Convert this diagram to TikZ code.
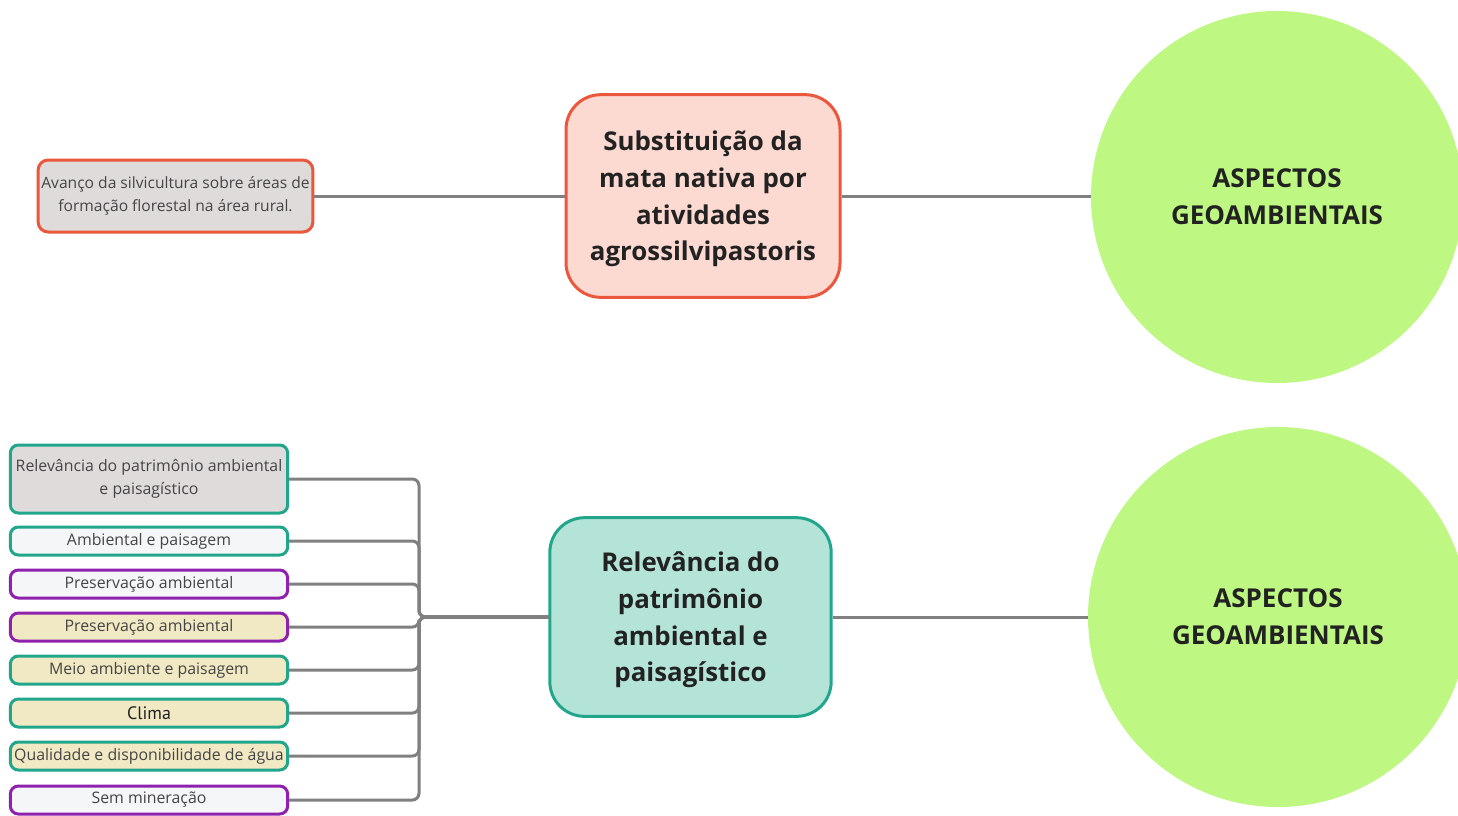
\documentclass[tikz,border=0pt]{standalone}
\usepackage{fontspec}
\setmainfont{Open Sans}
\newfontfamily\climafont{PT Sans}
\definecolor{orng}{HTML}{EA573A}
\definecolor{teal2}{HTML}{22A68B}
\definecolor{purp}{HTML}{8E22AD}
\definecolor{grayfill}{HTML}{DFDBDB}
\definecolor{whitefill}{HTML}{F4F6F8}
\definecolor{beige}{HTML}{F1E9C3}
\definecolor{pink}{HTML}{FCD9D1}
\definecolor{mint}{HTML}{B4E4D8}
\definecolor{lime}{HTML}{BEF781}
\definecolor{conn}{HTML}{808080}
\definecolor{txt}{HTML}{222222}
\definecolor{stxt}{HTML}{454545}
\tikzset{
  leaf/.style={draw, line width=2.25pt, rounded corners=6pt, minimum width=208pt, minimum height=21pt, inner sep=0pt, align=center, text=stxt, font=\fontsize{11.9}{14}\selectfont},
  hub/.style={draw, line width=2.25pt, rounded corners=26pt, inner sep=0pt, align=center, text=txt, font=\fontsize{19.4}{27.5}\selectfont\bfseries},
  bigcirc/.style={circle, fill=lime, inner sep=0pt, align=center, text=txt, font=\fontsize{19.5}{27.5}\selectfont\bfseries},
  link/.style={draw=conn, line width=2.25pt},
  buslink/.style={draw=conn, line width=2.25pt, rounded corners=5pt}
}
\begin{document}
\begin{tikzpicture}[x=0.75pt,y=-0.75pt]
\useasboundingbox (0,0) rectangle (1458,815);
% top branch
\node[bigcirc, minimum size=279pt] (c1) at (1277,197) {ASPECTOS\\GEOAMBIENTAIS};
\node[hub, draw=orng, fill=pink, minimum width=205.5pt, minimum height=152pt] (h1) at (703,196) {\strut Substituição da\\mata nativa por\\atividades\\agrossilvipastoris};
\node[leaf, draw=orng, fill=grayfill, rounded corners=7.5pt, minimum width=206pt, minimum height=54pt, font=\fontsize{11.7}{17}\selectfont] (t1) at (175.5,196) {Avanço da silvicultura sobre áreas de\\formação florestal na área rural.};
\draw[link] (t1.east) -- (h1.west);
\draw[link] (h1.east) -- (h1.east -| c1.west);
% bottom branch
\node[bigcirc, minimum size=285pt] (c2) at (1278,617) {ASPECTOS\\GEOAMBIENTAIS};
\node[hub, draw=teal2, fill=mint, minimum width=211pt, minimum height=149pt] (h2) at (690.5,617) {\strut Relevância do\\patrimônio\\ambiental e\\paisagístico};
\draw[link] (h2.east) -- (h2.east -| c2.west);
\node[leaf, draw=teal2, fill=grayfill, minimum height=51pt, font=\fontsize{11.9}{17.3}\selectfont] (l1) at (149,479) {Relevância do patrimônio ambiental\\e paisagístico};
\node[leaf, draw=teal2, fill=whitefill] (l2) at (149,541) {Ambiental e paisagem};
\node[leaf, draw=purp, fill=whitefill] (l3) at (149,584) {Preservação ambiental};
\node[leaf, draw=purp, fill=beige] (l4) at (149,627) {Preservação ambiental};
\node[leaf, draw=teal2, fill=beige] (l5) at (149,670) {Meio ambiente e paisagem};
\node[leaf, draw=teal2, fill=beige, text=txt, font=\fontsize{13.5}{15}\selectfont\climafont] (l6) at (149,713) {Clima};
\node[leaf, draw=teal2, fill=beige] (l7) at (149,756) {Qualidade e disponibilidade de água};
\node[leaf, draw=purp, fill=whitefill] (l8) at (149,800) {Sem mineração};
\coordinate (j) at (419,617);
\foreach \n in {l1,l2,l3,l4,l5,l6,l7,l8}{
  \draw[buslink] (\n.east) -- (j |- \n.east) -- (j) -- (h2.west);
}
\end{tikzpicture}
\end{document}
